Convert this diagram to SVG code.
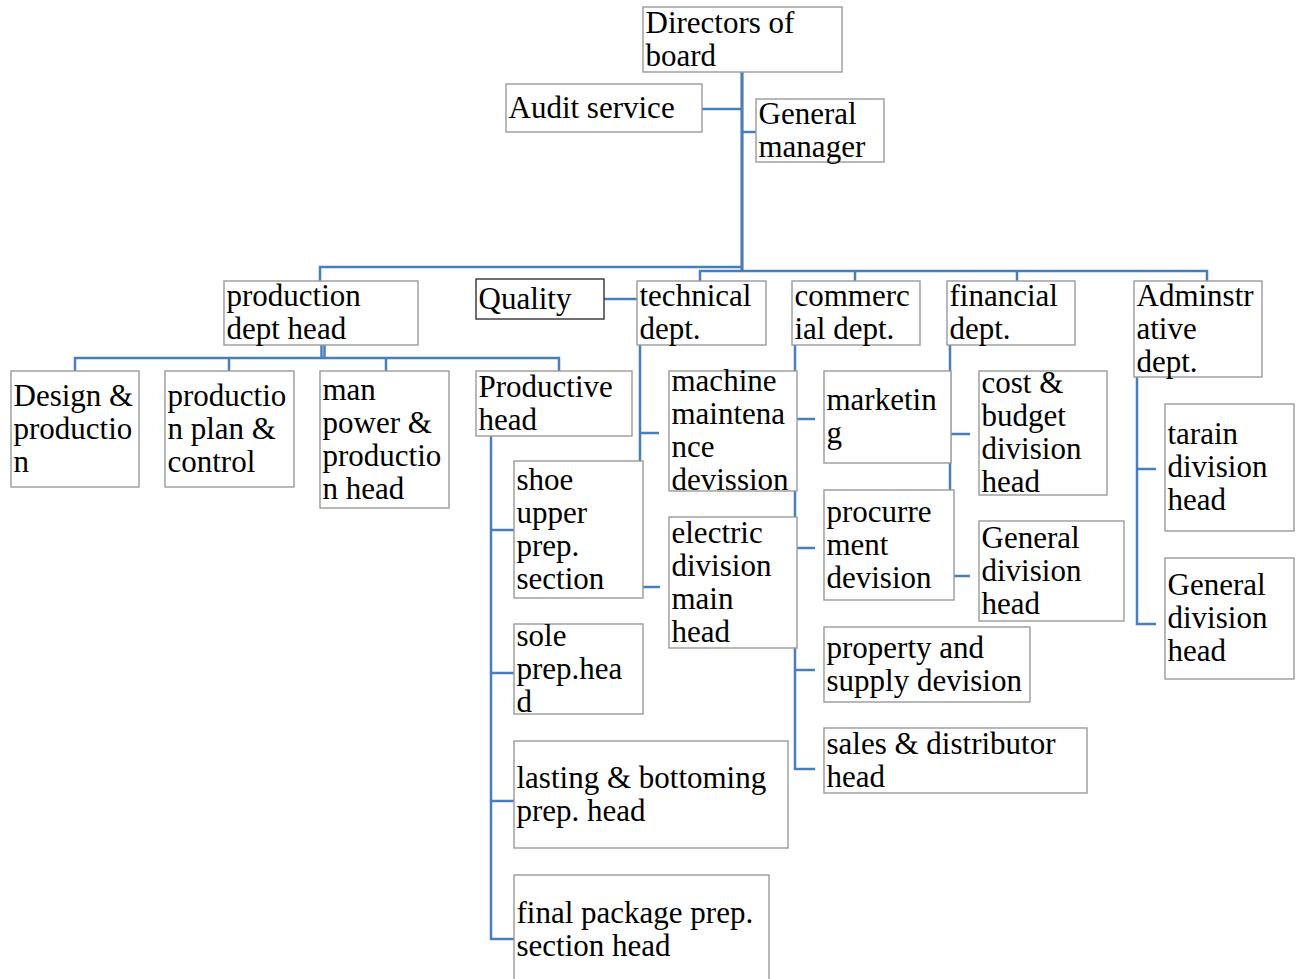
<svg xmlns="http://www.w3.org/2000/svg" width="1300" height="979" viewBox="0 0 1300 979">
<defs>
<style>
.c{fill:none;stroke:#4a7ebb;stroke-width:2.5}
.m{stroke-width:3.2}
.b{fill:#fff;stroke:#9a9a9a;stroke-width:1.4}
.q{stroke:#333}
</style>
</defs>
<rect width="1300" height="979" fill="#fff"/>
<g id="connectors">
<path class="c m" d="M742 72V272"/>
<path class="c" d="M702 109H742"/>
<path class="c" d="M742 132H756"/>
<path class="c" d="M320 281V267H742"/>
<path class="c" d="M700 281V271H1207V281"/>
<path class="c" d="M855 271V281"/>
<path class="c" d="M1017 271V281"/>
<path class="c" d="M604 299H637"/>
<path class="c" d="M321.5 345V358M324.5 345V358"/>
<path class="c" d="M75 371V358H559V371"/>
<path class="c" d="M229 358V371"/>
<path class="c" d="M386 358V371"/>
<path class="c" d="M491 436V939H514"/>
<path class="c" d="M491 530H514M491 673H514M491 801H514"/>
<path class="c" d="M640 345V587H660"/>
<path class="c" d="M640 433H659"/>
<path class="c" d="M795 345V769H815"/>
<path class="c" d="M795 419H815M795 548H815M795 670H815"/>
<path class="c" d="M950 345V576H970"/>
<path class="c" d="M950 434H970"/>
<path class="c" d="M1137 377V624H1156"/>
<path class="c" d="M1137 469H1156"/>
</g>
<g id="directors"><rect class="b" x="643" y="7" width="199" height="65"/><text x="645.5" y="32.5" font-family="Liberation Serif" font-size="31">Directors of</text><text x="645.5" y="65.5" font-family="Liberation Serif" font-size="31">board</text></g>
<g id="audit"><rect class="b" x="506" y="84" width="196" height="48"/><text x="508.5" y="117.5" font-family="Liberation Serif" font-size="31">Audit service</text></g>
<g id="general-manager"><rect class="b" x="756" y="99" width="128" height="63"/><text x="758.5" y="123.5" font-family="Liberation Serif" font-size="31">General</text><text x="758.5" y="156.5" font-family="Liberation Serif" font-size="31">manager</text></g>
<g id="production-dept"><rect class="b" x="224" y="281" width="194" height="64"/><text x="226.5" y="306" font-family="Liberation Serif" font-size="31">production</text><text x="226.5" y="339" font-family="Liberation Serif" font-size="31">dept head</text></g>
<g id="quality"><rect class="b q" x="476" y="279" width="128" height="40"/><text x="478.5" y="308.5" font-family="Liberation Serif" font-size="31">Quality</text></g>
<g id="technical"><rect class="b" x="637" y="281" width="129" height="64"/><text x="639.5" y="306" font-family="Liberation Serif" font-size="31">technical</text><text x="639.5" y="339" font-family="Liberation Serif" font-size="31">dept.</text></g>
<g id="commercial"><rect class="b" x="792" y="281" width="128" height="64"/><text x="794.5" y="306" font-family="Liberation Serif" font-size="31">commerc</text><text x="794.5" y="339" font-family="Liberation Serif" font-size="31">ial dept.</text></g>
<g id="financial"><rect class="b" x="947" y="281" width="128" height="64"/><text x="949.5" y="306" font-family="Liberation Serif" font-size="31">financial</text><text x="949.5" y="339" font-family="Liberation Serif" font-size="31">dept.</text></g>
<g id="administrative"><rect class="b" x="1134" y="281" width="128" height="96"/><text x="1136.5" y="305.5" font-family="Liberation Serif" font-size="31">Adminstr</text><text x="1136.5" y="338.5" font-family="Liberation Serif" font-size="31">ative</text><text x="1136.5" y="371.5" font-family="Liberation Serif" font-size="31">dept.</text></g>
<g id="design"><rect class="b" x="11" y="371" width="128" height="116"/><text x="13.5" y="405.5" font-family="Liberation Serif" font-size="31">Design &amp;</text><text x="13.5" y="438.5" font-family="Liberation Serif" font-size="31">productio</text><text x="13.5" y="471.5" font-family="Liberation Serif" font-size="31">n</text></g>
<g id="plan-control"><rect class="b" x="165" y="371" width="129" height="116"/><text x="167.5" y="405.5" font-family="Liberation Serif" font-size="31">productio</text><text x="167.5" y="438.5" font-family="Liberation Serif" font-size="31">n plan &amp;</text><text x="167.5" y="471.5" font-family="Liberation Serif" font-size="31">control</text></g>
<g id="manpower"><rect class="b" x="320" y="371" width="129" height="137"/><text x="322.5" y="399.5" font-family="Liberation Serif" font-size="31">man</text><text x="322.5" y="432.5" font-family="Liberation Serif" font-size="31">power &amp;</text><text x="322.5" y="465.5" font-family="Liberation Serif" font-size="31">productio</text><text x="322.5" y="498.5" font-family="Liberation Serif" font-size="31">n head</text></g>
<g id="productive"><rect class="b" x="476" y="371" width="156" height="65"/><text x="478.5" y="396.5" font-family="Liberation Serif" font-size="31">Productive</text><text x="478.5" y="429.5" font-family="Liberation Serif" font-size="31">head</text></g>
<g id="shoe-upper"><rect class="b" x="514" y="461" width="129" height="137"/><text x="516.5" y="489.5" font-family="Liberation Serif" font-size="31">shoe</text><text x="516.5" y="522.5" font-family="Liberation Serif" font-size="31">upper</text><text x="516.5" y="555.5" font-family="Liberation Serif" font-size="31">prep.</text><text x="516.5" y="588.5" font-family="Liberation Serif" font-size="31">section</text></g>
<g id="sole"><rect class="b" x="514" y="624" width="129" height="90"/><text x="516.5" y="645.5" font-family="Liberation Serif" font-size="31">sole</text><text x="516.5" y="678.5" font-family="Liberation Serif" font-size="31">prep.hea</text><text x="516.5" y="711.5" font-family="Liberation Serif" font-size="31">d</text></g>
<g id="lasting"><rect class="b" x="514" y="741" width="274" height="107"/><text x="516.5" y="787.5" font-family="Liberation Serif" font-size="31">lasting &amp; bottoming</text><text x="516.5" y="820.5" font-family="Liberation Serif" font-size="31">prep. head</text></g>
<g id="final-package"><rect class="b" x="514" y="875" width="255" height="110"/><text x="516.5" y="923" font-family="Liberation Serif" font-size="31">final package prep.</text><text x="516.5" y="956" font-family="Liberation Serif" font-size="31">section head</text></g>
<g id="machine"><rect class="b" x="669" y="371" width="128" height="120"/><text x="671.5" y="391" font-family="Liberation Serif" font-size="31">machine</text><text x="671.5" y="424" font-family="Liberation Serif" font-size="31">maintena</text><text x="671.5" y="457" font-family="Liberation Serif" font-size="31">nce</text><text x="671.5" y="490" font-family="Liberation Serif" font-size="31">devission</text></g>
<g id="electric"><rect class="b" x="669" y="517" width="128" height="131"/><text x="671.5" y="542.5" font-family="Liberation Serif" font-size="31">electric</text><text x="671.5" y="575.5" font-family="Liberation Serif" font-size="31">division</text><text x="671.5" y="608.5" font-family="Liberation Serif" font-size="31">main</text><text x="671.5" y="641.5" font-family="Liberation Serif" font-size="31">head</text></g>
<g id="marketing"><rect class="b" x="824" y="371" width="127" height="92"/><text x="826.5" y="410" font-family="Liberation Serif" font-size="31">marketin</text><text x="826.5" y="443" font-family="Liberation Serif" font-size="31">g</text></g>
<g id="procurement"><rect class="b" x="824" y="490" width="130" height="110"/><text x="826.5" y="521.5" font-family="Liberation Serif" font-size="31">procurre</text><text x="826.5" y="554.5" font-family="Liberation Serif" font-size="31">ment</text><text x="826.5" y="587.5" font-family="Liberation Serif" font-size="31">devision</text></g>
<g id="property"><rect class="b" x="824" y="627" width="206" height="75"/><text x="826.5" y="657.5" font-family="Liberation Serif" font-size="31">property and</text><text x="826.5" y="690.5" font-family="Liberation Serif" font-size="31">supply devision</text></g>
<g id="sales"><rect class="b" x="824" y="728" width="263" height="65"/><text x="826.5" y="753.5" font-family="Liberation Serif" font-size="31">sales &amp; distributor</text><text x="826.5" y="786.5" font-family="Liberation Serif" font-size="31">head</text></g>
<g id="cost-budget"><rect class="b" x="979" y="371" width="128" height="124"/><text x="981.5" y="393" font-family="Liberation Serif" font-size="31">cost &amp;</text><text x="981.5" y="426" font-family="Liberation Serif" font-size="31">budget</text><text x="981.5" y="459" font-family="Liberation Serif" font-size="31">division</text><text x="981.5" y="492" font-family="Liberation Serif" font-size="31">head</text></g>
<g id="financial-general"><rect class="b" x="979" y="521" width="145" height="100"/><text x="981.5" y="547.5" font-family="Liberation Serif" font-size="31">General</text><text x="981.5" y="580.5" font-family="Liberation Serif" font-size="31">division</text><text x="981.5" y="613.5" font-family="Liberation Serif" font-size="31">head</text></g>
<g id="tarain"><rect class="b" x="1165" y="404" width="129" height="127"/><text x="1167.5" y="444" font-family="Liberation Serif" font-size="31">tarain</text><text x="1167.5" y="477" font-family="Liberation Serif" font-size="31">division</text><text x="1167.5" y="510" font-family="Liberation Serif" font-size="31">head</text></g>
<g id="admin-general"><rect class="b" x="1165" y="558" width="129" height="121"/><text x="1167.5" y="595" font-family="Liberation Serif" font-size="31">General</text><text x="1167.5" y="628" font-family="Liberation Serif" font-size="31">division</text><text x="1167.5" y="661" font-family="Liberation Serif" font-size="31">head</text></g>
</svg>
